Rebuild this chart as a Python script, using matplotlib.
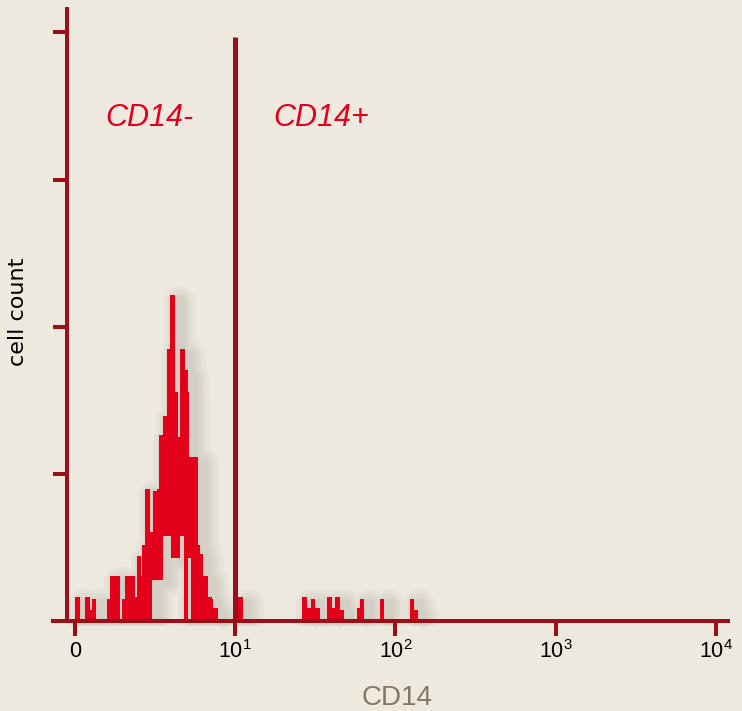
import numpy as np
import matplotlib
matplotlib.use("Agg")
import matplotlib.pyplot as plt
import matplotlib.patheffects as pe

# flow cytometry histogram, 1024 channels over 4 decades (256 channels / decade)
spike_ch = [3, 19, 25, 30, 54, 59, 63, 67, 78, 83, 87, 91, 96,
            102, 106, 110, 115, 120, 123, 127, 131, 134, 138, 143, 147, 150, 155,
            160, 164, 171, 176, 178, 184, 188, 192, 196, 200, 204, 208, 214, 217, 224,
            264, 366, 373, 380, 387, 406, 411, 419, 426, 454, 458, 490, 538, 544]
spike_n = [2, 2, 1, 2, 2, 4, 2, 4, 2, 4, 2, 4, 2,
           6, 4, 7, 12, 8, 6, 12, 11, 12, 17, 19, 17, 25, 30,
           21, 17, 25, 23, 21, 15, 10, 15, 7, 6, 4, 4, 2, 2, 1,
           2, 2, 1, 2, 1, 2, 1, 2, 1, 1, 2, 2, 2, 1]
# count held after each spike until the next one
floor_n = [0, 0, 0, 0, 0, 0, 0, 0, 0, 0, 0, 0, 0,
           0, 0, 0, 0, 4, 4, 4, 4, 4, 8, 8, 8, 8, 6,
           6, 8, 8, 0, 6, 6, 0, 0, 0, 0, 0, 0, 0, 0, 0,
           0, 0, 0, 0, 0, 0, 0, 0, 0, 0, 0, 0, 0, 0]

decades = [0, 1, 2, 3, 4]
decade_labels = ["0", "10$^1$", "10$^2$", "10$^3$", "10$^4$"]
count_ticks = [13.6, 27.2, 40.8, 54.5]
gate_decade = 1.0
gate_top = 54.0
gates = ["CD14-", "CD14+"]
gate_text_x = [0.187, 1.236]

BG = "#ede9df"
AXIS = "#9b0f19"
RED = "#e3001b"

plt.rcParams["font.family"] = ["Liberation Sans", "DejaVu Sans"]
plt.rcParams["mathtext.fontset"] = "custom"
plt.rcParams["mathtext.rm"] = "Liberation Sans"
plt.rcParams["mathtext.it"] = "Liberation Sans:italic"

# step path of the histogram, broken where it sits on the baseline
xs, ys = [], []
prev = 0
for c, n, fl in zip(spike_ch, spike_n, floor_n):
    xs += [c, c, c + 1, c + 1]
    ys += [prev, n, n, fl]
    if fl == 0:
        xs.append(np.nan)
        ys.append(np.nan)
    prev = fl
xs = np.array(xs, dtype=float) / 256.0
ys = np.array(ys, dtype=float)

fig = plt.figure(figsize=(7.42, 7.11), dpi=100, facecolor=BG)
ax = fig.add_axes([53 / 742, 90 / 711, 675 / 742, 612 / 711])
ax.set_facecolor(BG)

# soft drop shadow to the lower right
shadow = [pe.SimpleLineShadow(offset=(5, -3), shadow_color="#5e5548", alpha=0.045,
                              linewidth=w, joinstyle="round")
          for w in (22, 16, 11, 7)]
ax.plot(xs, ys, color=RED, lw=2.9, solid_joinstyle="miter", solid_capstyle="butt",
        clip_on=False, zorder=2, path_effects=shadow + [pe.Normal()])

ax.plot([gate_decade, gate_decade], [0, gate_top], color=AXIS, lw=3.6,
        solid_capstyle="butt", zorder=3)

for name, gx in zip(gates, gate_text_x):
    ax.text(gx, 45.8, name, color=RED, fontsize=22, style="italic",
            ha="left", va="baseline")

ax.set_xlim(-0.1373, 4.0749)
ax.set_ylim(0, 56.6)

for s in ("top", "right"):
    ax.spines[s].set_visible(False)
ax.spines["left"].set_position(("data", -0.05))
for s in ("left", "bottom"):
    ax.spines[s].set_color(AXIS)
    ax.spines[s].set_linewidth(2.9)
    ax.spines[s].set_zorder(4)

ax.set_xticks(decades)
ax.set_xticklabels(decade_labels)
ax.set_yticks(count_ticks)
ax.tick_params(axis="x", direction="out", length=10.5, width=2.9, color=AXIS,
               pad=3.6, labelsize=15.5, labelcolor="black")
ax.tick_params(axis="y", direction="out", length=10, width=2.9, color=AXIS,
               labelleft=False)

ax.set_xlabel("CD14", fontsize=20, color="#867763")
ax.xaxis.set_label_coords(0.5096, -0.1046)
ax.set_ylabel("cell count", fontsize=16, color="black", family="DejaVu Sans")
ax.yaxis.set_label_coords(-0.037, 0.505)

fig.savefig("out.png", dpi=100, facecolor=BG)
